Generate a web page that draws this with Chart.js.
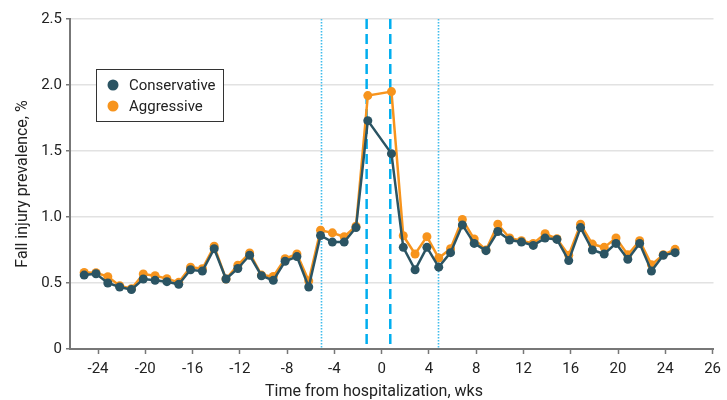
<!DOCTYPE html>
<html>
<head>
<meta charset="utf-8">
<script src="https://cdn.jsdelivr.net/npm/chart.js@4.4.1/dist/chart.umd.min.js"></script>
<style>
  html, body { margin: 0; padding: 0; background: #fff; }
  #wrap { width: 727px; height: 400px; }
</style>
</head>
<body>
<div id="wrap"><canvas id="chart" width="727" height="400"></canvas></div>
<script>
/* data */
const weeks = [
  -25, -24, -23, -22, -21, -20, -19, -18, -17, -16, -15, -14, -13,
  -12, -11, -10, -9, -8, -7, -6, -5, -4, -3, -2, -1,
  1, 2, 3, 4, 5, 6, 7, 8, 9, 10, 11, 12, 13,
  14, 15, 16, 17, 18, 19, 20, 21, 22, 23, 24, 25
];
const conservative = [
  0.56, 0.57, 0.50, 0.47, 0.45, 0.53, 0.52, 0.51, 0.49, 0.60, 0.59, 0.76, 0.53,
  0.61, 0.71, 0.555, 0.52, 0.665, 0.70, 0.47, 0.86, 0.81, 0.81, 0.92, 1.73,
  1.48, 0.77, 0.60, 0.77, 0.62, 0.73, 0.94, 0.80, 0.745, 0.89, 0.825, 0.81, 0.785,
  0.84, 0.83, 0.67, 0.92, 0.75, 0.72, 0.80, 0.68, 0.80, 0.59, 0.71, 0.73
];
const aggressive = [
  0.58, 0.578, 0.548, 0.48, 0.457, 0.568, 0.555, 0.533, 0.505, 0.62, 0.608, 0.778, 0.53,
  0.635, 0.727, 0.56, 0.55, 0.684, 0.72, 0.515, 0.90, 0.88, 0.85, 0.93, 1.92,
  1.95, 0.858, 0.72, 0.851, 0.689, 0.76, 0.982, 0.833, 0.75, 0.945, 0.841, 0.82, 0.80,
  0.873, 0.835, 0.71, 0.945, 0.795, 0.77, 0.841, 0.714, 0.82, 0.639, 0.714, 0.755
];
const xTickLabels = ["-24", "-20", "-16", "-12", "-8", "-4", "0", "4", "8", "12", "16", "20", "24", "26"];
const hospWeeks = [-1.1, 0.9];      // dashed lines
const windowWeeks = [-5, 4.9];      // dotted lines
const xTitle = "Time from hospitalization, wks";

const FONT = "Roboto, 'Liberation Sans', sans-serif";
const TICK_SHIFT = 0.17; // tick labels sit slightly right of the week points in the figure

// vertical reference lines
const refLines = {
  id: "refLines",
  beforeDatasetsDraw(chart) {
    const { ctx, chartArea: { top, bottom }, scales: { x } } = chart;
    ctx.save();
    ctx.strokeStyle = "#3fbcec";
    ctx.lineWidth = 1.6;
    ctx.setLineDash([1.5, 1.5]);
    windowWeeks.forEach((w) => {
      const px = Math.round(x.getPixelForValue(w)) + 0.5;
      ctx.beginPath(); ctx.moveTo(px, top); ctx.lineTo(px, bottom); ctx.stroke();
    });
    ctx.strokeStyle = "#00aeef";
    ctx.lineWidth = 2.5;
    ctx.setLineDash([10, 5]);
    hospWeeks.forEach((w) => {
      const px = x.getPixelForValue(w);
      ctx.beginPath(); ctx.moveTo(px, top); ctx.lineTo(px, bottom); ctx.stroke();
    });
    ctx.restore();
  },
};

// boxed legend inside the plot + x axis title (sits left of axis centre in the figure)
const boxLegend = {
  id: "boxLegend",
  afterDraw(chart) {
    const { ctx, chartArea: { left, top } } = chart;
    const bx = left + 26, by = top + 50, bw = 127, bh = 52;
    ctx.save();
    ctx.fillStyle = "#fff";
    ctx.fillRect(bx, by, bw, bh);
    ctx.strokeStyle = "#333";
    ctx.lineWidth = 1;
    ctx.strokeRect(bx + 0.5, by + 0.5, bw, bh);
    ctx.font = "15px " + FONT;
    ctx.textBaseline = "middle";
    chart.data.datasets.forEach((ds, i) => {
      const cy = by + 16 + i * 21;
      ctx.beginPath();
      ctx.arc(bx + 17, cy, 5.5, 0, Math.PI * 2);
      ctx.fillStyle = ds.backgroundColor;
      ctx.fill();
      ctx.fillStyle = "#222";
      ctx.fillText(ds.label, bx + 33, cy + 1);
    });

    ctx.font = "16px " + FONT;
    ctx.textAlign = "center";
    ctx.textBaseline = "alphabetic";
    ctx.fillStyle = "#222";
    ctx.fillText(xTitle, left + 304, chart.height - 4);
    ctx.restore();
  },
};

new Chart(document.getElementById("chart"), {
  type: "line",
  data: {
    datasets: [
      {
        label: "Conservative",
        data: weeks.map((w, i) => ({ x: w, y: conservative[i] })),
        borderColor: "#2b5463",
        backgroundColor: "#2b5463",
        borderWidth: 2.5,
        pointRadius: 4.5,
        pointBorderWidth: 0,
        tension: 0,
        order: 1,
      },
      {
        label: "Aggressive",
        data: weeks.map((w, i) => ({ x: w, y: aggressive[i] })),
        borderColor: "#f7941d",
        backgroundColor: "#f7941d",
        borderWidth: 2.5,
        pointRadius: 4.5,
        pointBorderWidth: 0,
        tension: 0,
        order: 2,
      },
    ],
  },
  options: {
    responsive: false,
    animation: false,
    devicePixelRatio: 1,
    layout: { padding: { top: 19, right: 8, bottom: 0, left: 0 } },
    plugins: { legend: { display: false }, tooltip: { enabled: false } },
    scales: {
      x: {
        type: "linear",
        min: -26.2,
        max: 28.25,
        afterBuildTicks(axis) {
          axis.ticks = xTickLabels.map((_, i) => ({ value: -24 + 4 * i + TICK_SHIFT }));
        },
        afterFit(axis) { axis.height = 51; },
        ticks: {
          autoSkip: false,
          maxRotation: 0,
          padding: 6,
          color: "#222",
          font: { family: FONT, size: 15 },
          callback: (v, i) => xTickLabels[i],
        },
        grid: { drawOnChartArea: false, tickLength: 5, tickColor: "#777", tickWidth: 1.5 },
        border: { color: "#777", width: 2 },
        title: { display: false },
      },
      y: {
        min: 0,
        max: 2.5,
        afterFit(axis) { axis.width = 70; },
        ticks: {
          stepSize: 0.5,
          padding: 4,
          color: "#222",
          font: { family: FONT, size: 15 },
          callback: (v) => (v === 0 ? "0" : v.toFixed(1)),
        },
        grid: { color: "#e2e2e2", lineWidth: 1.5, tickLength: 4, tickColor: "#777", tickWidth: 1.5 },
        border: { color: "#777", width: 2 },
        title: {
          display: true,
          text: "Fall injury prevalence, %",
          color: "#222",
          font: { family: FONT, size: 16 },
          padding: { top: 13, bottom: 0 },
        },
      },
    },
  },
  plugins: [refLines, boxLegend],
});
</script>
</body>
</html>
